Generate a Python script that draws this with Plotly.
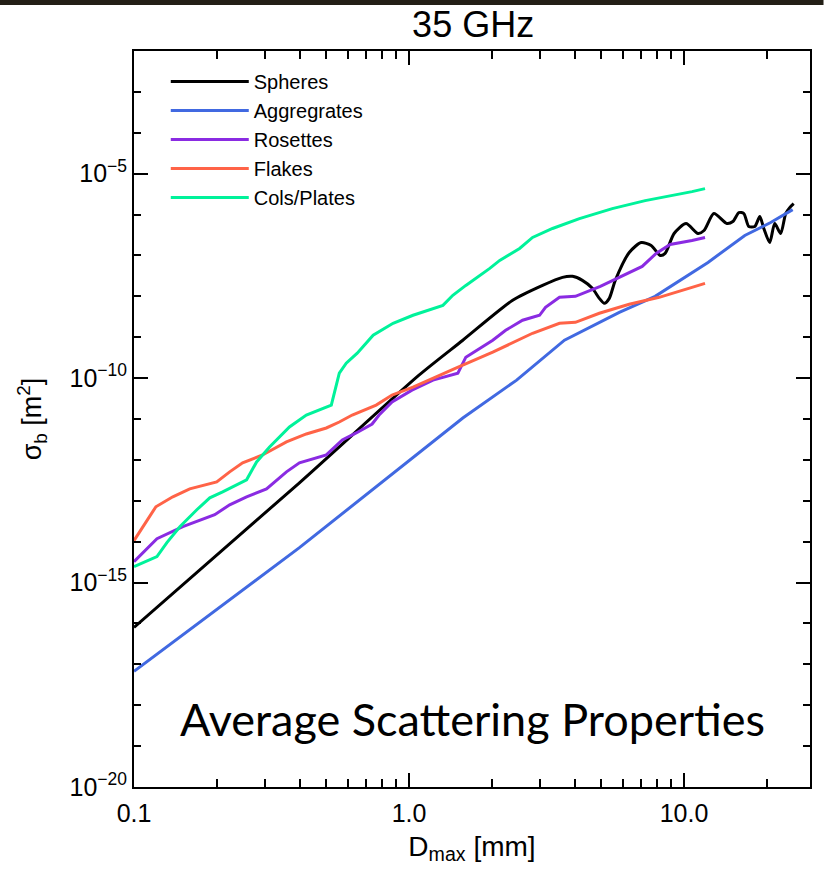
import plotly.graph_objects as go

# Maximum dimension of the particle [mm] and backscattering cross section [m^2]
spheres_d = [0.1, 0.3995, 1.087, 1.569, 2.381, 3.059, 3.614, 3.929, 4.269, 4.642,
             4.920, 5.130, 5.349, 5.623, 6.320, 6.986, 7.594, 8.185, 8.535, 9.201,
             10.17, 11.24, 11.82, 12.84, 14.31, 15.05, 15.83, 16.50, 17.20, 18.08,
             18.86, 19.50, 20.49, 21.37, 22.46, 23.42, 24.22, 25.04]
spheres_s = [7.98e-17, 2.75e-13, 1.18e-10, 8.45e-10, 7.98e-9, 1.85e-8, 2.91e-8, 3.08e-8, 2.46e-8, 1.57e-8,
             8.93e-9, 6.75e-9, 8.93e-9, 2.46e-8, 1.18e-7, 2.07e-7, 1.75e-7, 1.0e-7, 1.12e-7, 3.44e-7,
             6.03e-7, 3.44e-7, 4.07e-7, 1.06e-6, 6.03e-7, 6.75e-7, 1.12e-6, 1.06e-6, 5.09e-7, 5.09e-7,
             8.93e-7, 4.56e-7, 2.07e-7, 6.03e-7, 3.44e-7, 1.06e-6, 1.48e-6, 1.85e-6]

aggregates_d = [0.1, 0.3995, 1.569, 2.462, 3.674, 5.815, 7.850, 9.277, 12.22, 16.63, 20.66, 24.83]
aggregates_s = [6.75e-18, 7.14e-15, 1.06e-11, 8.93e-11, 8.45e-10, 4.07e-9, 1.0e-8, 2.07e-8,
                6.75e-8, 3.08e-7, 6.38e-7, 1.32e-6]

rosettes_d = [0.1, 0.1212, 0.1505, 0.1966, 0.2228, 0.2567, 0.3033, 0.3584, 0.3995, 0.5004,
              0.5719, 0.6427, 0.7343, 0.7785, 0.8678, 1.025, 1.222, 1.505, 1.609, 1.808,
              2.016, 2.246, 2.588, 2.983, 3.135, 3.525, 4.028, 4.962, 5.815, 7.045,
              7.917, 8.899, 10.69, 11.92]
rosettes_s = [3.25e-15, 1.18e-14, 2.32e-14, 4.56e-14, 7.98e-14, 1.25e-13, 1.96e-13, 5.09e-13, 8.45e-13, 1.32e-12,
              3.08e-12, 4.56e-12, 7.55e-12, 1.25e-11, 2.60e-11, 5.09e-11, 8.93e-11, 1.32e-10, 3.25e-10, 5.39e-10,
              8.45e-10, 1.48e-9, 2.60e-9, 3.44e-9, 5.39e-9, 9.46e-9, 1.0e-8, 1.75e-8, 2.91e-8, 5.39e-8,
              1.12e-7, 1.85e-7, 2.32e-7, 2.75e-7]

flakes_d = [0.1, 0.1201, 0.1384, 0.1595, 0.1999, 0.2228, 0.2483, 0.2934, 0.3584, 0.4233,
            0.5004, 0.5578, 0.6217, 0.7595, 0.8678, 1.034, 1.480, 2.016, 2.813, 3.525,
            4.028, 4.920, 6.320, 8.118, 10.69, 11.92]
flakes_s = [1.06e-14, 7.14e-14, 1.25e-13, 1.96e-13, 2.90e-13, 5.09e-13, 8.45e-13, 1.32e-12, 2.75e-12, 4.31e-12,
            6.03e-12, 8.45e-12, 1.25e-11, 2.19e-11, 3.85e-11, 6.03e-11, 1.75e-10, 4.31e-10, 1.25e-9, 2.19e-9,
            2.32e-9, 3.85e-9, 6.38e-9, 9.46e-9, 1.66e-8, 2.07e-8]

columns_d = [0.1, 0.1212, 0.1317, 0.1468, 0.1692, 0.1886, 0.2101, 0.2567, 0.2791, 0.3111,
             0.3675, 0.4233, 0.5217, 0.5578, 0.5911, 0.6482, 0.7406, 0.8750, 1.034, 1.328,
             1.443, 1.609, 1.966, 2.137, 2.524, 2.813, 3.325, 4.165, 5.484, 7.223,
             10.69, 11.92]
columns_s = [2.46e-15, 4.31e-15, 9.46e-15, 2.32e-14, 6.03e-14, 1.18e-13, 1.66e-13, 3.25e-13, 8.93e-13, 2.07e-12,
             6.38e-12, 1.25e-11, 2.19e-11, 1.32e-10, 2.32e-10, 4.07e-10, 1.12e-9, 2.19e-9, 3.44e-9, 6.03e-9,
             1.06e-8, 1.85e-8, 4.82e-8, 7.55e-8, 1.48e-7, 2.75e-7, 4.56e-7, 7.98e-7, 1.40e-6, 2.19e-6,
             3.64e-6, 4.31e-6]

x_tick_vals = [0.1, 1.0, 10.0]
x_tick_text = ["0.1", "1.0", "10.0"]
x_minor_vals = [0.2, 0.3, 0.4, 0.5, 0.6, 0.7, 0.8, 0.9, 2, 3, 4, 5, 6, 7, 8, 9, 20]
y_tick_exps = [-20, -15, -10, -5]
y_minor_exps = [-19, -18, -17, -16, -14, -13, -12, -11, -9, -8, -7, -6, -4, -3]

# name, x, y, colour, line shape
series = [
    ("Spheres", spheres_d, spheres_s, "#000000", "spline"),
    ("Aggregrates", aggregates_d, aggregates_s, "#4169E1", "linear"),
    ("Rosettes", rosettes_d, rosettes_s, "#8A2BE2", "linear"),
    ("Flakes", flakes_d, flakes_s, "#FF6347", "linear"),
    ("Cols/Plates", columns_d, columns_s, "#00F29A", "linear"),
]

FONT = "Liberation Sans, Arial, sans-serif"

fig = go.Figure()
for name, d, s, color, shape in series:
    fig.add_trace(go.Scatter(x=d, y=s, mode="lines", name=name,
                             line=dict(color=color, width=3, shape=shape, smoothing=0.7)))

axis_common = dict(
    showline=True, linecolor="black", linewidth=2, mirror="ticks",
    ticks="inside", tickcolor="black", tickwidth=1.5, ticklen=14,
    showgrid=False, zeroline=False,
    tickfont=dict(family=FONT, size=25, color="black"),
)

fig.update_xaxes(
    type="log", range=[-1, 1.458],
    tickvals=x_tick_vals, ticktext=x_tick_text,
    ticklabelstandoff=3,
    minor=dict(tickvals=x_minor_vals, ticks="inside", ticklen=8,
               tickcolor="black", tickwidth=1.5, showgrid=False),
    title=dict(text="D<sub>max</sub> [mm]", font=dict(family=FONT, size=28, color="black"),
               standoff=10),
    **axis_common,
)
fig.update_yaxes(
    type="log", range=[-20, -2],
    tickvals=[10.0 ** e for e in y_tick_exps],
    ticktext=[f"10<sup>\u2212{-e}</sup>" for e in y_tick_exps],
    minor=dict(tickvals=[10.0 ** e for e in y_minor_exps], ticks="inside", ticklen=7,
               tickcolor="black", tickwidth=1.5, showgrid=False),
    title=dict(text="\u03c3<sub>b</sub> [m<sup>2</sup>]", font=dict(family=FONT, size=27, color="black"),
               standoff=20),
    **axis_common,
)

fig.update_layout(
    width=824, height=869,
    margin=dict(l=134, r=12, t=51, b=81),
    paper_bgcolor="white", plot_bgcolor="white",
    title=dict(text="35 GHz", x=0.5742, xanchor="center", y=0.972, yanchor="middle",
               font=dict(family=FONT, size=36, color="black")),
    showlegend=True,
    legend=dict(x=0.047, y=0.985, xanchor="left", yanchor="top",
                bgcolor="rgba(0,0,0,0)", borderwidth=0, itemwidth=78,
                font=dict(family=FONT, size=20, color="black")),
    annotations=[dict(text="Average Scattering Properties", xref="paper", yref="paper",
                      x=0.5, y=0.092, xanchor="center", yanchor="middle", showarrow=False,
                      font=dict(family="Lato, sans-serif", size=45, color="black"))],
    shapes=[dict(type="rect", xref="paper", yref="paper", x0=-0.2, x1=1.02,
                 y0=1.0624, y1=1.0692, fillcolor="#231f16", line=dict(width=0), layer="above")],
)

fig.write_html("out.html")
